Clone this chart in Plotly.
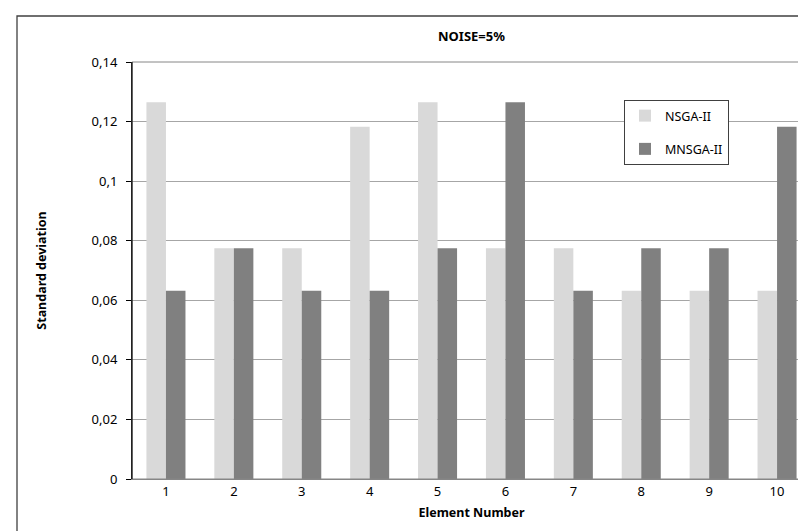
import plotly.graph_objects as go

categories = ["1", "2", "3", "4", "5", "6", "7", "8", "9", "10"]
nsga = [0.1265, 0.0775, 0.0775, 0.1183, 0.1265, 0.0775, 0.0775, 0.0632, 0.0632, 0.0632]
mnsga = [0.0632, 0.0775, 0.0632, 0.0632, 0.0775, 0.1265, 0.0632, 0.0775, 0.0775, 0.1183]
series_names = ["NSGA-II", "MNSGA-II"]
y_ticks = [0, 0.02, 0.04, 0.06, 0.08, 0.1, 0.12, 0.14]

W, H = 806, 531
L, R, T, B = 124, 3, 54, 60
pw, ph = W - L - R, H - T - B

font = "Noto Sans, Open Sans, sans-serif"

fig = go.Figure()
fig.add_trace(go.Bar(x=categories, y=nsga, name=series_names[0],
                     marker=dict(color="#D9D9D9", line=dict(width=0)),
                     legendgroup="a"))
fig.add_trace(go.Bar(x=categories, y=mnsga, name=series_names[1],
                     marker=dict(color="#808080", line=dict(width=0)),
                     legendgroup="b"))

def px_x(p):
    return (p - L) / pw

def px_y(p):
    return 1 - (p - T) / ph

fig.update_layout(
    width=W, height=H,
    margin=dict(l=L, r=R, t=T, b=B, pad=0),
    paper_bgcolor="white", plot_bgcolor="white",
    separators=",.",
    barmode="group", bargap=0.425, bargroupgap=0,
    font=dict(family=font, size=13, color="#000000"),
    title=dict(text="<b>NOISE=5%</b>", x=463.5 / W, xref="container", xanchor="center",
               y=1 - 28 / H, yref="container", yanchor="middle",
               font=dict(size=13, family=font)),
    xaxis=dict(type="category", showgrid=False, showline=True,
               linecolor="#868686", linewidth=1, ticks="",
               tickfont=dict(size=13),
               title=dict(text="<b>Element Number</b>", font=dict(size=12.5), standoff=9)),
    yaxis=dict(range=[0, 0.14], tickvals=y_ticks, showgrid=True,
               gridcolor="#A6A6A6", gridwidth=1, zeroline=False,
               showline=True, linecolor="#000000", linewidth=1,
               ticks="outside", ticklen=5, tickcolor="#000000",
               tickfont=dict(size=13), ticklabelstandoff=6,
               title=dict(text="<b>Standard deviation</b>", font=dict(size=12.5), standoff=42)),
    legend=dict(x=px_x(616), y=px_y(92), xanchor="left", yanchor="top",
                bgcolor="white", bordercolor="#404040", borderwidth=1,
                font=dict(size=12.5), tracegroupgap=14, itemwidth=30,
                traceorder="grouped"),
    shapes=[
        dict(type="rect", xref="paper", yref="paper",
             x0=0, x1=1, y0=0, y1=1,
             line=dict(color="#868686", width=1), layer="above"),
        dict(type="rect", xref="paper", yref="paper",
             x0=px_x(9), x1=px_x(812), y0=px_y(540), y1=px_y(8),
             line=dict(color="#404040", width=1.3), layer="above"),
        dict(type="line", xref="paper", yref="paper",
             x0=0, x1=0, y0=0, y1=1,
             line=dict(color="#000000", width=1), layer="above"),
    ],
)

fig.write_html("out.html")
